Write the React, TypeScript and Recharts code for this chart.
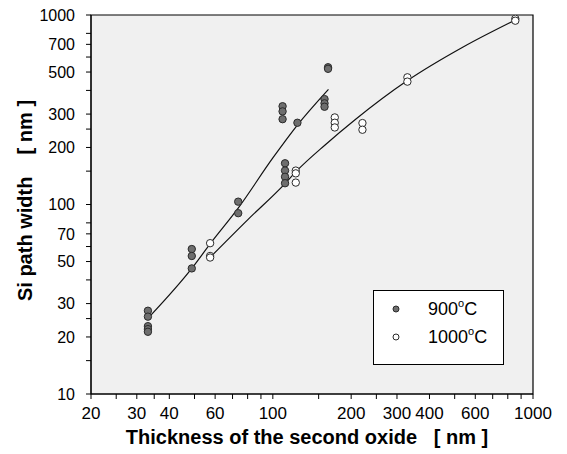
import {
  ComposedChart,
  Scatter,
  Line,
  XAxis,
  YAxis,
  ReferenceArea,
  Label,
} from "recharts";

// 900°C (filled markers)
const x900 = [33.1, 33.1, 33.1, 33.1, 33.1, 48.8, 48.8, 48.8, 73.6, 73.6, 109, 109, 109, 111.4, 111.4, 111.4, 111.4, 124.3, 158, 158, 158, 163, 163];
const y900 = [27.5, 25.6, 22.8, 22, 21.3, 58.2, 53.5, 46, 103.5, 90, 330, 310, 282, 165, 151, 140, 129.5, 270, 360, 342, 328, 530, 520];

// 1000°C (open markers)
const x1000 = [57.4, 57.4, 57.4, 122.5, 122.5, 122.5, 173, 173, 173, 221, 221, 329, 329, 855, 855];
const y1000 = [62.5, 53.5, 52.5, 151, 146, 130.5, 288, 270, 255, 269, 248, 469, 445, 955, 933];

// fitted curves
const fitX900 = [33.3, 48.8, 57.4, 73.7, 100, 123.6, 163.6];
const fitY900 = [25.3, 46, 62, 96, 176, 260, 405];
const fitX1000 = [57.4, 80, 111.4, 122.7, 160, 207, 327, 541, 855];
const fitY1000 = [52.6, 83, 129, 149, 208, 280, 448, 680, 941];

const xTicks = [20, 25, 30, 35, 40, 50, 60, 70, 80, 90, 100, 150, 200, 250, 300, 400, 500, 600, 700, 800, 900, 1000];
const xLabels = [20, 30, 40, 60, 100, 200, 300, 400, 600, 1000];
const yTicks = [10, 15, 20, 25, 30, 40, 50, 60, 70, 80, 100, 150, 200, 250, 300, 400, 500, 600, 700, 800, 1000];
const yLabels = [10, 20, 30, 50, 70, 100, 200, 300, 500, 700, 1000];

const zip = (xs: number[], ys: number[]) => xs.map((x, i) => ({ x, y: ys[i] }));

const pts900 = zip(x900, y900);
const pts1000 = zip(x1000, y1000);
const fit900 = zip(fitX900, fitY900);
const fit1000 = zip(fitX1000, fitY1000);

const FONT = "'Liberation Sans', Arial, sans-serif";
const FILLED = "#6e6e6e";
const EDGE = "#2a2a2a";

function Dot(fill: string) {
  return (props: any) => (
    <circle cx={props.cx} cy={props.cy} r={3.7} fill={fill} stroke={EDGE} strokeWidth={1} />
  );
}

function Deg({ value }: { value: string }) {
  return (
    <span>
      {value}
      <sup style={{ fontSize: 11, position: "relative", top: -1 }}>o</sup>C
    </span>
  );
}

function LegendBox() {
  const row = { display: "flex", alignItems: "center", height: 28 } as const;
  return (
    <div
      style={{
        position: "absolute",
        left: 373,
        top: 290,
        width: 131,
        height: 75,
        boxSizing: "border-box",
        border: "1px solid #000",
        background: "#fff",
        fontFamily: FONT,
        fontSize: 18,
        paddingTop: 4,
      }}
    >
      <div style={row}>
        <svg width={54} height={28}>
          <circle cx={22} cy={14} r={3} fill={FILLED} stroke={EDGE} />
        </svg>
        <Deg value="900" />
      </div>
      <div style={row}>
        <svg width={54} height={28}>
          <circle cx={22} cy={14} r={3} fill="#fff" stroke={EDGE} />
        </svg>
        <Deg value="1000" />
      </div>
    </div>
  );
}

export default function App() {
  return (
    <div style={{ position: "absolute", left: 0, top: 0, width: 567, height: 454, background: "#fff" }}>
      <ComposedChart
        width={567}
        height={454}
        margin={{ top: 15, right: 34, bottom: 0, left: 0 }}
        style={{ fontFamily: FONT }}
      >
        <XAxis
          dataKey="x"
          type="number"
          scale="log"
          domain={[20, 1000]}
          allowDataOverflow
          ticks={xTicks}
          interval={0}
          height={60}
          tickSize={5}
          tickMargin={8}
          stroke="#000"
          tick={{ fill: "#000", fontSize: 17 }}
          tickFormatter={(v: number) => (xLabels.includes(v) ? String(v) : "")}
        >
          <Label
            content={({ viewBox }: any) => (
              <text
                x={viewBox.x + viewBox.width / 2 - 5}
                y={444}
                textAnchor="middle"
                fontSize={20}
                fontWeight="bold"
                fontFamily={FONT}
                fill="#000"
                xmlSpace="preserve"
              >
                {"Thickness of the second oxide   [ nm ]"}
              </text>
            )}
          />
        </XAxis>
        <YAxis
          dataKey="y"
          type="number"
          scale="log"
          domain={[10, 1000]}
          allowDataOverflow
          ticks={yTicks}
          interval={0}
          width={91}
          tickSize={5}
          tickMargin={11}
          stroke="#000"
          tick={{ fill: "#000", fontSize: 16 }}
          tickFormatter={(v: number) => (yLabels.includes(v) ? String(v) : "")}
        >
          <Label
            content={({ viewBox }: any) => {
              const cx = 25;
              const cy = viewBox.y + viewBox.height / 2 - 4;
              return (
                <text
                  x={cx}
                  y={cy}
                  transform={`rotate(-90 ${cx} ${cy})`}
                  textAnchor="middle"
                  dominantBaseline="central"
                  fontSize={20}
                  fontWeight="bold"
                  fontFamily={FONT}
                  fill="#000"
                  xmlSpace="preserve"
                >
                  {"Si path width    [ nm ]"}
                </text>
              );
            }}
          />
        </YAxis>
        <ReferenceArea x1={20} x2={1000} y1={10} y2={1000} fill="#f0f0f0" fillOpacity={1} stroke="#000" strokeWidth={1.2} />
        <Line data={fit900} dataKey="y" type="monotone" dot={false} stroke="#111" strokeWidth={1.2} isAnimationActive={false} />
        <Line data={fit1000} dataKey="y" type="monotone" dot={false} stroke="#111" strokeWidth={1.2} isAnimationActive={false} />
        <Scatter data={pts900} shape={Dot(FILLED)} isAnimationActive={false} />
        <Scatter data={pts1000} shape={Dot("#fff")} isAnimationActive={false} />
      </ComposedChart>
      <LegendBox />
    </div>
  );
}
